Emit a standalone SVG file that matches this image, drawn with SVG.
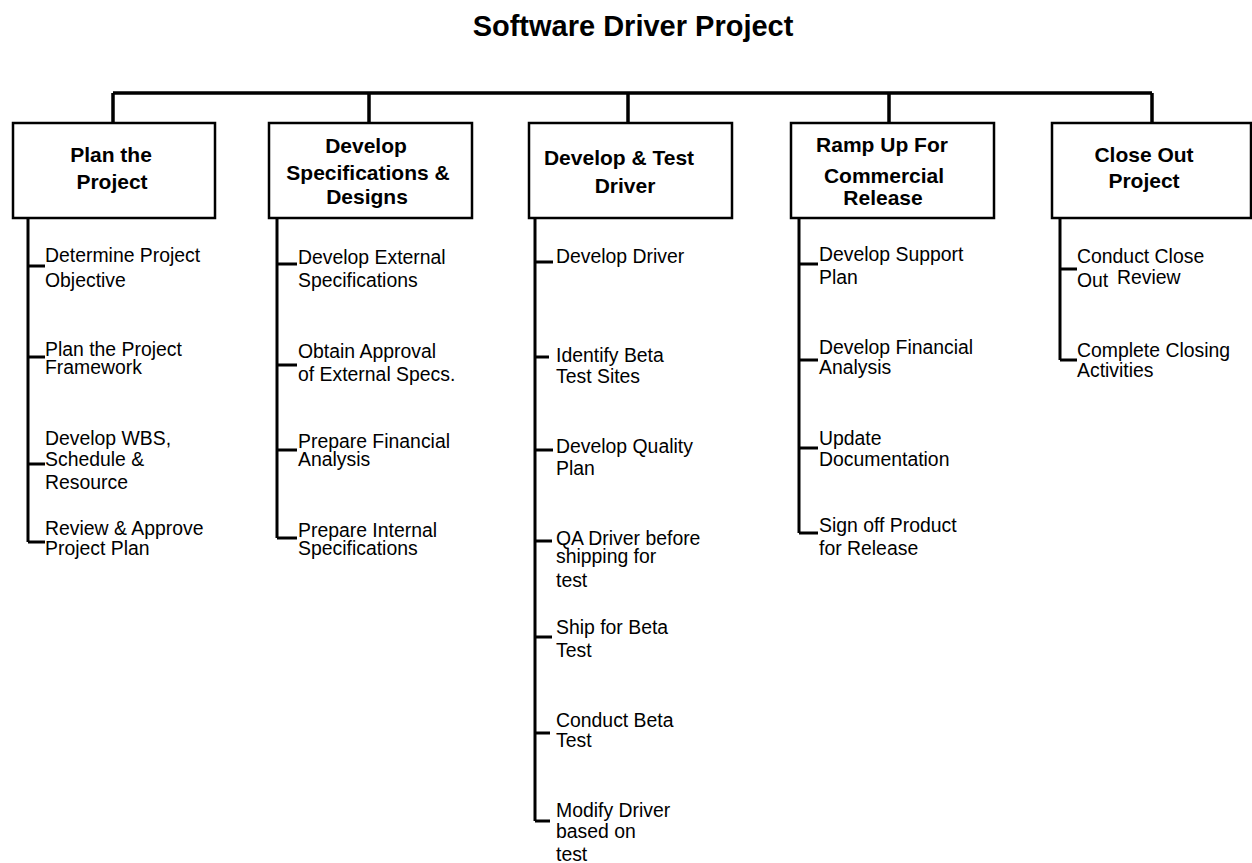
<svg xmlns="http://www.w3.org/2000/svg" width="1252" height="863" viewBox="0 0 1252 863">
<style>
  .bg { fill: #ffffff; }
  .box { fill: #ffffff; stroke: #000000; stroke-width: 2.5; }
  .title { font-family: "Liberation Sans", Arial, sans-serif; font-weight: bold; font-size: 29px; fill: #000; text-anchor: middle; }
  .head { font-family: "Liberation Sans", Arial, sans-serif; font-weight: bold; font-size: 21px; fill: #000; text-anchor: middle; }
  .task { font-family: "Liberation Sans", Arial, sans-serif; font-size: 19.4px; fill: #000; }
  .conn { fill: none; stroke: #000000; stroke-width: 3.5; stroke-linecap: butt; }
  .stem { fill: none; stroke: #000000; stroke-width: 3; }
</style>
<rect class="bg" x="0" y="0" width="1252" height="863"/>
<text class="title" x="633" y="36">Software Driver Project</text>

<g id="connectors">
  <path class="conn" d="M113 93 H1152 M113 93 V123 M369 93 V123 M628 93 V123 M889 93 V123 M1152 93 V123"/>
  <path class="stem" d="M28 218 V542 M28 266 H45 M28 357 H45 M28 464 H45 M28 542 H45"/>
  <path class="stem" d="M277 218 V538 M277 264 H297 M277 365 H297 M277 450 H297 M277 538 H297"/>
  <path class="stem" d="M535 218 V821 M535 262 H553 M535 357 H549 M535 450 H553 M535 541 H552 M535 637 H552 M535 733 H550 M535 821 H550"/>
  <path class="stem" d="M799 218 V533 M799 264 H818 M799 360 H818 M799 448 H818 M799 533 H818"/>
  <path class="stem" d="M1060 218 V360 M1060 269 H1077 M1060 360 H1077"/>
</g>

<g id="plan-project">
  <rect class="box" x="13" y="123" width="202" height="95"/>
  <text class="head"><tspan x="111" y="162">Plan the</tspan><tspan x="112" y="189">Project</tspan></text>
</g>
<g id="develop-specs">
  <rect class="box" x="269" y="123" width="203" height="95"/>
  <text class="head"><tspan x="366" y="153">Develop</tspan><tspan x="368" y="180">Specifications &amp;</tspan><tspan x="367" y="204">Designs</tspan></text>
</g>
<g id="develop-test">
  <rect class="box" x="529" y="123" width="203" height="95"/>
  <text class="head"><tspan x="619" y="165">Develop &amp; Test</tspan><tspan x="625" y="193">Driver</tspan></text>
</g>
<g id="ramp-up">
  <rect class="box" x="791" y="123" width="203" height="95"/>
  <text class="head"><tspan x="882" y="152">Ramp Up For</tspan><tspan x="884" y="183">Commercial</tspan><tspan x="883" y="205">Release</tspan></text>
</g>
<g id="close-out">
  <rect class="box" x="1052" y="123" width="199" height="95"/>
  <text class="head"><tspan x="1144" y="162">Close Out</tspan><tspan x="1144" y="188">Project</tspan></text>
</g>

<g id="t-determine-objective"><text class="task"><tspan x="45" y="262">Determine Project</tspan><tspan x="45" y="287">Objective</tspan></text></g>
<g id="t-plan-framework"><text class="task"><tspan x="45" y="356">Plan the Project</tspan><tspan x="45" y="374">Framework</tspan></text></g>
<g id="t-develop-wbs"><text class="task"><tspan x="45" y="445">Develop WBS,</tspan><tspan x="45" y="466">Schedule &amp;</tspan><tspan x="45" y="489">Resource</tspan></text></g>
<g id="t-review-approve"><text class="task"><tspan x="45" y="535">Review &amp; Approve</tspan><tspan x="45" y="555">Project Plan</tspan></text></g>

<g id="t-ext-specs"><text class="task"><tspan x="298" y="264">Develop External</tspan><tspan x="298" y="287">Specifications</tspan></text></g>
<g id="t-obtain-approval"><text class="task"><tspan x="298" y="358">Obtain Approval</tspan><tspan x="298" y="381">of External Specs.</tspan></text></g>
<g id="t-prep-financial"><text class="task"><tspan x="298" y="448">Prepare Financial</tspan><tspan x="298" y="466">Analysis</tspan></text></g>
<g id="t-prep-internal"><text class="task"><tspan x="298" y="537">Prepare Internal</tspan><tspan x="298" y="555">Specifications</tspan></text></g>

<g id="t-develop-driver"><text class="task"><tspan x="556" y="263">Develop Driver</tspan></text></g>
<g id="t-identify-beta"><text class="task"><tspan x="556" y="362">Identify Beta</tspan><tspan x="556" y="383">Test Sites</tspan></text></g>
<g id="t-quality-plan"><text class="task"><tspan x="556" y="453">Develop Quality</tspan><tspan x="556" y="475">Plan</tspan></text></g>
<g id="t-qa-driver"><text class="task"><tspan x="556" y="545">QA Driver before</tspan><tspan x="556" y="563">shipping for</tspan><tspan x="556" y="587">test</tspan></text></g>
<g id="t-ship-beta"><text class="task"><tspan x="556" y="634">Ship for Beta</tspan><tspan x="556" y="657">Test</tspan></text></g>
<g id="t-conduct-beta"><text class="task"><tspan x="556" y="727">Conduct Beta</tspan><tspan x="556" y="747">Test</tspan></text></g>
<g id="t-modify-driver"><text class="task"><tspan x="556" y="817">Modify Driver</tspan><tspan x="556" y="838">based on</tspan><tspan x="556" y="861">test</tspan></text></g>

<g id="t-support-plan"><text class="task"><tspan x="819" y="261">Develop Support</tspan><tspan x="819" y="284">Plan</tspan></text></g>
<g id="t-dev-financial"><text class="task"><tspan x="819" y="354">Develop Financial</tspan><tspan x="819" y="374">Analysis</tspan></text></g>
<g id="t-update-doc"><text class="task"><tspan x="819" y="445">Update</tspan><tspan x="819" y="466">Documentation</tspan></text></g>
<g id="t-sign-off"><text class="task"><tspan x="819" y="532">Sign off Product</tspan><tspan x="819" y="555">for Release</tspan></text></g>

<g id="t-close-review"><text class="task"><tspan x="1077" y="263">Conduct Close</tspan><tspan x="1077" y="287">Out</tspan><tspan x="1117" y="284">Review</tspan></text></g>
<g id="t-closing-activities"><text class="task"><tspan x="1077" y="357">Complete Closing</tspan><tspan x="1077" y="377">Activities</tspan></text></g>
</svg>
